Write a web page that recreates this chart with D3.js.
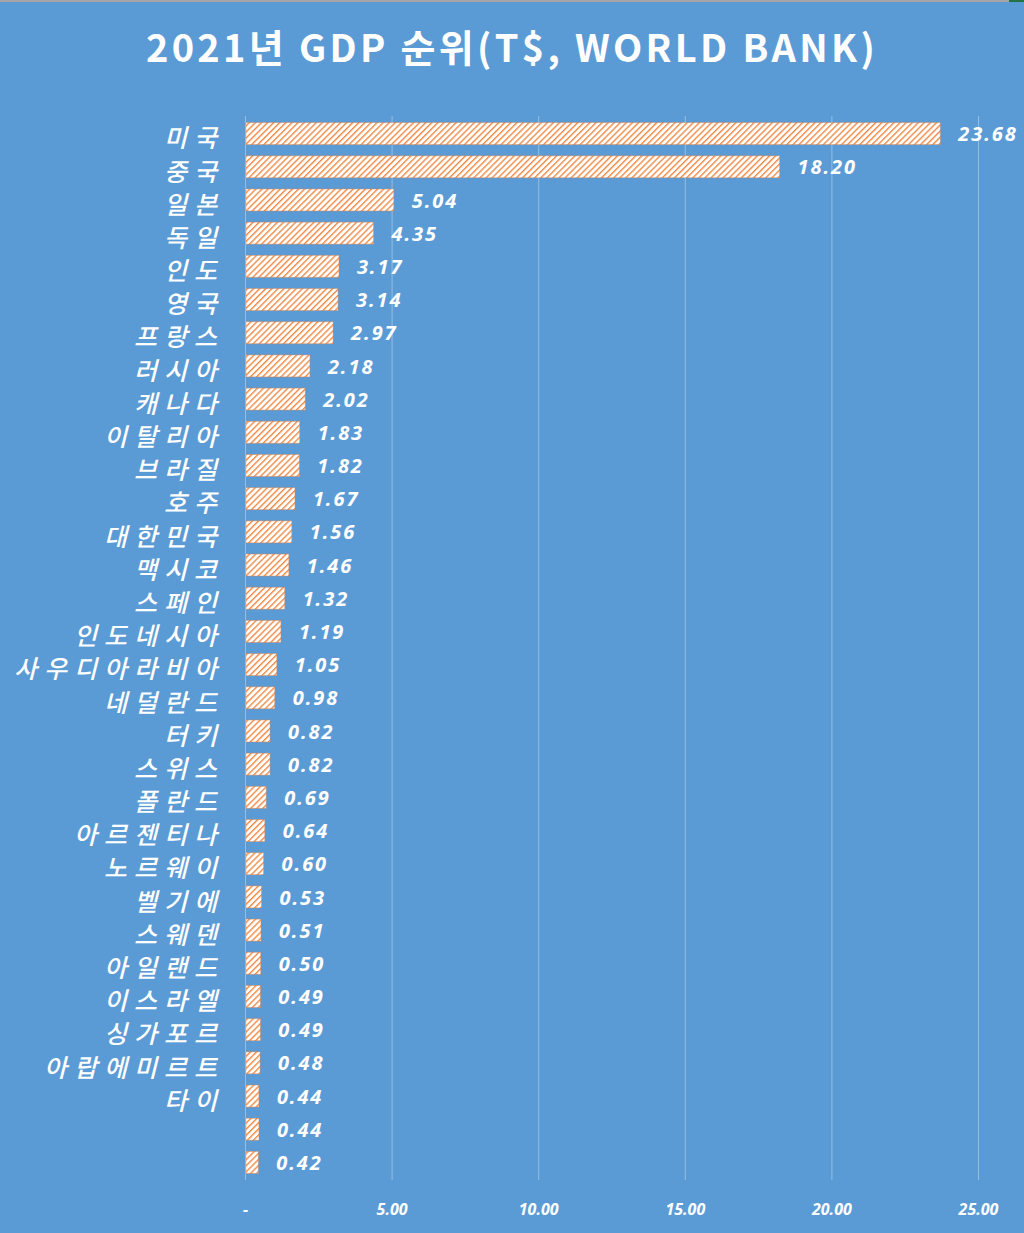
<!DOCTYPE html>
<html>
<head>
<meta charset="utf-8">
<script src="https://cdn.jsdelivr.net/npm/d3@7"></script>
<style>
  body { margin: 0; background: #5b9bd5; }
  svg { display: block; }
</style>
</head>
<body>
<div class="root"></div>
<script>
// 2021 GDP ranking, trillion USD (World Bank)
var countries = ['미국', '중국', '일본', '독일', '인도', '영국', '프랑스', '러시아', '캐나다', '이탈리아',
                 '브라질', '호주', '대한민국', '맥시코', '스페인', '인도네시아', '사우디아라비아', '네덜란드',
                 '터키', '스위스', '폴란드', '아르젠티나', '노르웨이', '벨기에', '스웨덴', '아일랜드',
                 '이스라엘', '싱가포르', '아랍에미르트', '타이', '', ''];
var gdp = [23.68, 18.20, 5.04, 4.35, 3.17, 3.14, 2.97, 2.18, 2.02, 1.83,
           1.82, 1.67, 1.56, 1.46, 1.32, 1.19, 1.05, 0.98,
           0.82, 0.82, 0.69, 0.64, 0.60, 0.53, 0.51, 0.50,
           0.49, 0.49, 0.48, 0.44, 0.44, 0.42];
var xTicks = [0, 5, 10, 15, 20, 25];

var width = 1024, height = 1233;
var margin = {top: 116, right: 46, bottom: 53, left: 245};

var svg = d3.select('.root').append('svg')
            .attr('width', width)
            .attr('height', height);

svg.append('rect').attr('width', width).attr('height', height).attr('fill', '#5b9bd5');
// window edge bits at the top
svg.append('rect').attr('width', width).attr('height', 2).attr('fill', '#a6a6a6');
svg.append('rect').attr('x', 1009).attr('width', 15).attr('height', 2).attr('fill', '#217346');

var defs = svg.append('defs');
var pat = defs.append('pattern')
              .attr('id', 'hatch')
              .attr('patternUnits', 'userSpaceOnUse')
              .attr('width', 4.3)
              .attr('height', 4.3)
              .attr('patternTransform', 'rotate(45)');
pat.append('rect').attr('width', 4.3).attr('height', 4.3).attr('fill', '#ffffff');
pat.append('rect').attr('width', 1.4).attr('height', 4.3).attr('fill', '#f08a45');

svg.append('text')
   .attr('x', 512)
   .attr('y', 62)
   .attr('text-anchor', 'middle')
   .style('font-family', '"Noto Sans CJK KR", "Noto Sans", sans-serif')
   .style('font-weight', 'bold')
   .style('font-size', '38px')
   .style('letter-spacing', '3.3px')
   .style('fill', '#ffffff')
   .text('2021년 GDP 순위(T$, WORLD BANK)');

var x = d3.scaleLinear()
          .domain([0, 25])
          .range([margin.left, 978]);

var y = d3.scaleBand()
          .domain(d3.range(countries.length))
          .range([margin.top, height - margin.bottom])
          .paddingInner(0.34)
          .paddingOuter(0.2);

// grid lines
svg.append('g')
   .selectAll('line')
   .data(xTicks)
   .join('line')
   .attr('x1', d => x(d) + 0.5)
   .attr('x2', d => x(d) + 0.5)
   .attr('y1', margin.top)
   .attr('y2', height - margin.bottom)
   .style('stroke', 'rgba(255,255,255,0.35)')
   .style('stroke-width', 1);

svg.append('g')
   .selectAll('rect')
   .data(gdp)
   .join('rect')
   .attr('x', x(0) + 1)
   .attr('y', (d, i) => y(i))
   .attr('width', d => x(d) - x(0))
   .attr('height', y.bandwidth())
   .attr('fill', 'url(#hatch)')
   .style('stroke', 'rgba(237,125,49,0.4)')
   .style('stroke-width', 1);

svg.append('g')
   .selectAll('text')
   .data(gdp)
   .join('text')
   .attr('x', d => x(d) + 19)
   .attr('y', (d, i) => y(i) + y.bandwidth() / 2)
   .attr('dy', '0.38em')
   .style('font-family', '"Noto Sans", sans-serif')
   .style('font-weight', 'bold')
   .style('font-style', 'italic')
   .style('font-size', '20px')
   .style('letter-spacing', '1.9px')
   .style('fill', '#ffffff')
   .text(d => d3.format('.2f')(d));

// category axis
var yAxis = svg.append('g')
               .attr('transform', 'translate(' + margin.left + ',0)')
               .call(d3.axisLeft(y).tickSize(0).tickPadding(21).tickFormat(i => countries[i]));
yAxis.select('.domain').remove();
yAxis.selectAll('text')
     .attr('dy', '0.55em')
     .style('font-family', '"Noto Sans CJK KR", sans-serif')
     .style('font-style', 'italic')
     .style('font-weight', 500)
     .style('font-size', '25px')
     .style('letter-spacing', '7px')
     .style('fill', '#ffffff');

var xAxis = svg.append('g')
               .attr('transform', 'translate(0,' + (height - margin.bottom) + ')')
               .call(d3.axisBottom(x).tickValues(xTicks).tickSize(0).tickPadding(24)
                       .tickFormat(d => d === 0 ? '-' : d3.format('.2f')(d)));
xAxis.select('.domain').remove();
xAxis.selectAll('text')
     .style('font-family', '"Noto Sans", sans-serif')
     .style('font-weight', 'bold')
     .style('font-style', 'italic')
     .style('font-size', '16px')
     .style('fill', '#ffffff');
</script>
</body>
</html>
